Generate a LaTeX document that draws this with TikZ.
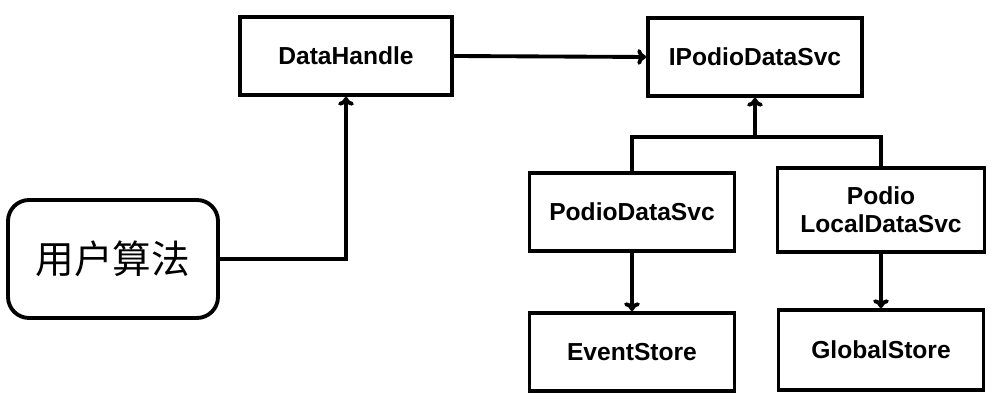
\documentclass[tikz,border=0pt]{standalone}
\usepackage{fontspec}
\setmainfont{Liberation Sans}
\newfontfamily\cjk{Noto Sans CJK SC}
\usetikzlibrary{positioning,arrows.meta}
\tikzset{
  box/.style={draw,line width=2.2pt,minimum width=205\unitlen,minimum height=78\unitlen,
    font=\fontsize{14}{16}\selectfont\bfseries,align=center,inner sep=0pt},
  link/.style={line width=2.2pt,-{To[length=5pt,width=9pt]}}
}
\newlength\unitlen
\setlength\unitlen{0.02cm}
\begin{document}
\begin{tikzpicture}[x=0.02cm,y=-0.02cm]
  \useasboundingbox (0,0) rectangle (998,404);
  \node[box,minimum width=212\unitlen] (handle) at (346,56) {DataHandle};
  \node[box,minimum width=214\unitlen] (isvc) at (755,57) {IPodioDataSvc};
  \node[box,rounded corners=12pt,minimum width=210\unitlen,minimum height=118\unitlen,
    font=\cjk\fontsize{22}{24}\selectfont] (algo) at (113,259) {用户算法};
  \node[box] (psvc) at (632,212) {PodioDataSvc};
  \node[box,minimum width=207\unitlen,minimum height=84\unitlen] (lsvc) at (881,210) {Podio\\LocalDataSvc};
  \node[box] (evt) at (632,352) {EventStore};
  \node[box,minimum height=80\unitlen] (glob) at (881,350) {GlobalStore};
  \coordinate (join) at (755,137);
  % connectors
  \draw[link] (algo.east) -| (handle.south);
  \draw[link] (handle.east) -- (isvc.west);
  \draw[line width=2.2pt] (psvc.north) |- (join) -| (lsvc.north);
  \draw[link] (join) -- (isvc.south);
  \draw[link] (psvc.south) -- (evt.north);
  \draw[link] (lsvc.south) -- (glob.north);
\end{tikzpicture}
\end{document}
